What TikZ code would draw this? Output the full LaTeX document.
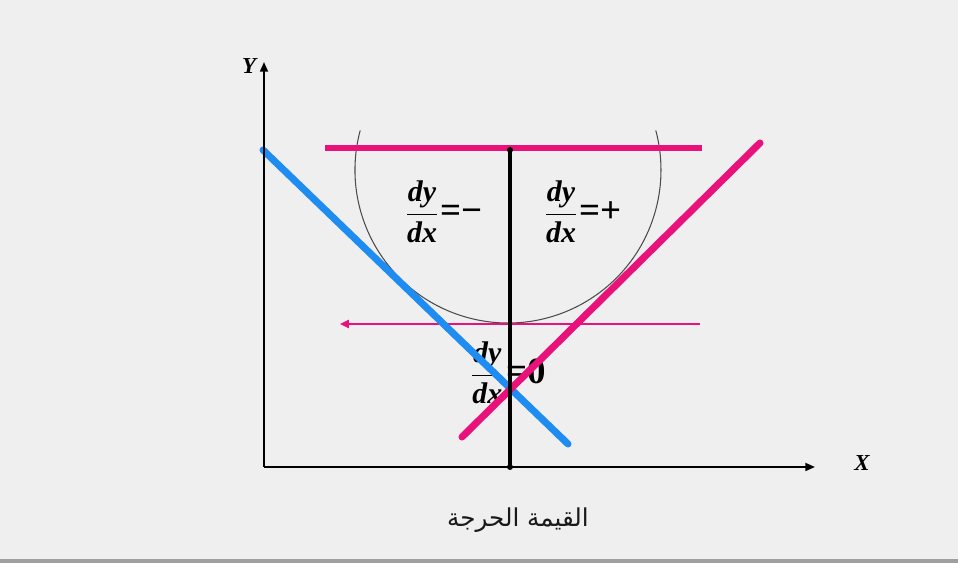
\documentclass[tikz,border=0pt]{standalone}
\usepackage{amsmath}
\usepackage{fontspec}
\setmainfont{Liberation Serif}
\newfontfamily\arabicfont[Script=Arabic]{DejaVu Sans}
\TeXXeTstate=1
\usepackage{xcolor}
\usepackage{tikz}
\usetikzlibrary{positioning,arrows.meta}

\definecolor{bgcol}{HTML}{EFEFEF}
\definecolor{pinkline}{RGB}{232,18,122}
\definecolor{blueline}{RGB}{30,140,240}

\newcommand{\slope}[1]{$\dfrac{\text{\textbf{\textit{dy}}}}{\text{\textbf{\textit{dx}}}}$\kern1pt{\fontsize{21}{24}\selectfont\bfseries =#1}}

\begin{document}
\begin{tikzpicture}[
  x=0.02cm, y=-0.02cm,
  axis/.style={line width=1.1pt, -{Triangle[length=5.5pt,width=4.5pt]}},
  tangent/.style={line width=4pt, line cap=round},
  slopelabel/.style={font=\fontsize{17}{20}\selectfont, inner sep=0pt},
  axislabel/.style={font=\fontsize{13}{15}\selectfont\bfseries\itshape, inner sep=0pt},
  >=Stealth
]
% frame
\fill[bgcol] (0,0) rectangle (958,559);
\fill[gray!75] (0,559) rectangle (958,563);
\useasboundingbox (0,0) rectangle (958,563);

% points
\coordinate (origin) at (264,467);
\coordinate (ytip) at (264,62);
\coordinate (xtip) at (815,467);
\coordinate (top) at (510,150);
\coordinate (foot) at (510,467);

% curve
\draw[black!70, line width=0.6pt] (508,170) ++(195:153) arc[start angle=195, end angle=-15, radius=153];

% labels
\node[slopelabel] (negslope) at (444,212) {\slope{−}};
\node[slopelabel] (posslope) at (583,212) {\slope{+}};
\node[slopelabel] (zeroslope) at (508,373) {\slope{0}};

% tangents
\coordinate (maxl) at (325,148);
\coordinate (maxr) at (702,148);
\coordinate (minl) at (340,324);
\coordinate (minr) at (700,324);
\draw[pinkline, line width=3.4pt] (maxl) -- (maxr);
\draw[pinkline, line width=1.7pt, {Triangle[length=5pt,width=4.5pt]}-] (minl) -- (minr);
\coordinate (b1) at (263,150);
\coordinate (b2) at (568,444);
\coordinate (p1) at (462,437);
\coordinate (p2) at (760,143);
\draw[tangent, blueline] (b1) -- (b2);
\draw[tangent, pinkline] (p1) -- (p2);

% critical line
\draw[line width=2.3pt] (top) -- (foot);
\fill (top) circle (3);
\fill (foot) circle (3);

% axes
\draw[axis] (origin) -- (ytip);
\draw[axis] (origin) -- (xtip);
\node[axislabel] (ylabel) at (249,66) {Y};
\node[axislabel] (xlabel) at (862,463) {X};

\node[font=\arabicfont\fontsize{14}{16}\selectfont, text=black!90] (caption) at (518,520) {\beginR القيمة الحرجة\endR};
\end{tikzpicture}
\end{document}
